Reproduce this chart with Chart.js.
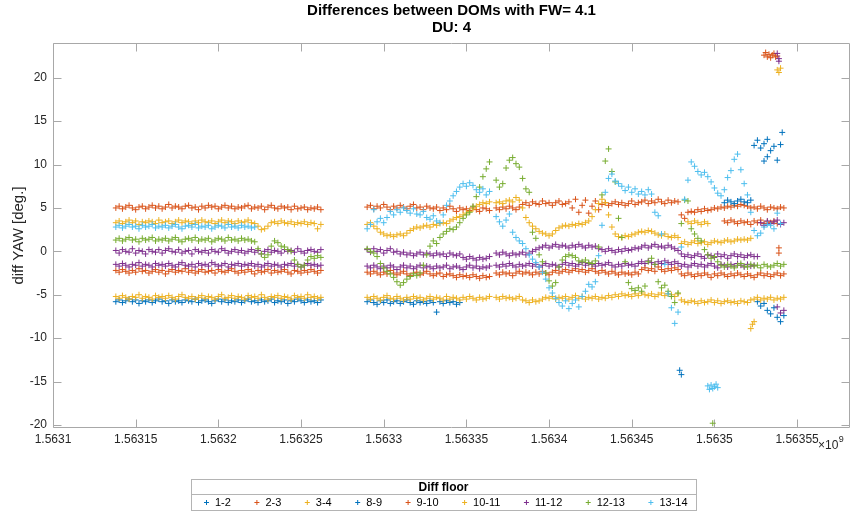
<!DOCTYPE html>
<html>
<head>
<meta charset="utf-8">
<script src="https://cdn.jsdelivr.net/npm/chart.js@4"></script>
<style>
  html, body { margin: 0; padding: 0; background: #fff; }
</style>
</head>
<body>
<canvas id="myChart" width="851" height="515"></canvas>
<script>
// sample times (x10^9 s), two runs with a gap between them
const times = [
  1.563138,1.56314,1.563142,1.563144,1.563146,1.563148,1.56315,1.563152,1.563154,1.563156,
  1.563158,1.56316,1.563162,1.563164,1.563166,1.563168,1.56317,1.563172,1.563174,1.563176,
  1.563178,1.56318,1.563182,1.563184,1.563186,1.563188,1.56319,1.563192,1.563194,1.563196,
  1.563198,1.5632,1.563202,1.563204,1.563206,1.563208,1.56321,1.563212,1.563214,1.563216,
  1.563218,1.56322,1.563222,1.563224,1.563226,1.563228,1.56323,1.563232,1.563234,1.563236,
  1.563238,1.56324,1.563242,1.563244,1.563246,1.563248,1.56325,1.563252,1.563254,1.563256,
  1.563258,1.56326,1.563262,
  1.56329,1.563292,1.563294,1.563296,1.563298,1.5633,1.563302,1.563304,1.563306,1.563308,
  1.56331,1.563312,1.563314,1.563316,1.563318,1.56332,1.563322,1.563324,1.563326,1.563328,
  1.56333,1.563332,1.563334,1.563336,1.563338,1.56334,1.563342,1.563344,1.563346,1.563348,
  1.56335,1.563352,1.563354,1.563356,1.563358,1.56336,1.563362,1.563364,1.563366,1.563368,
  1.56337,1.563372,1.563374,1.563376,1.563378,1.56338,1.563382,1.563384,1.563386,1.563388,
  1.56339,1.563392,1.563394,1.563396,1.563398,1.5634,1.563402,1.563404,1.563406,1.563408,
  1.56341,1.563412,1.563414,1.563416,1.563418,1.56342,1.563422,1.563424,1.563426,1.563428,
  1.56343,1.563432,1.563434,1.563436,1.563438,1.56344,1.563442,1.563444,1.563446,1.563448,
  1.56345,1.563452,1.563454,1.563456,1.563458,1.56346,1.563462,1.563464,1.563466,1.563468,
  1.56347,1.563472,1.563474,1.563476,1.563478,1.56348,1.563482,1.563484,1.563486,1.563488,
  1.56349,1.563492,1.563494,1.563496,1.563498,1.5635,1.563502,1.563504,1.563506,1.563508,
  1.56351,1.563512,1.563514,1.563516,1.563518,1.56352,1.563522,1.563524,1.563526,1.563528,
  1.56353,1.563532,1.563534,1.563536,1.563538,1.56354,1.563542
];

// diff YAW [deg.] per floor pair, one value per sample time
const y12 = [
  -5.8,-5.6,-5.9,-5.7,-5.5,-5.8,-5.6,-6.0,-5.7,-5.8,
  -5.6,-5.9,-5.7,-5.5,-5.8,-5.7,-6.0,-5.6,-5.8,-5.7,
  -5.9,-5.6,-5.7,-5.8,-5.5,-5.9,-5.7,-5.6,-5.8,-6.0,
  -5.7,-5.5,-5.8,-5.6,-5.9,-5.7,-5.8,-5.6,-5.9,-5.7,
  -5.5,-5.8,-5.7,-5.9,-5.6,-5.8,-5.7,-5.5,-5.9,-5.7,
  -5.8,-5.6,-6.0,-5.7,-5.8,-5.5,-5.7,-5.9,-5.6,-5.8,
  -5.7,-5.9,-5.6,
  -5.8,-5.6,-5.9,-6.1,-5.7,-5.9,-5.6,-6.0,-5.8,-5.7,
  -6.0,-5.8,-5.6,-5.9,-6.1,-5.7,-5.9,-5.8,-6.0,-5.7,
  -5.9,-7.0,-5.8,-6.0,-5.7,-5.9,-5.8,-6.1,-5.9,
  null,null,null,null,null,null,null,null,null,null,
  null,null,null,null,null,null,null,null,null,null,
  null,null,null,null,null,null,null,null,null,null,
  null,null,null,null,null,null,null,null,null,null,
  null,null,null,null,null,null,null,null,null,null,
  null,null,null,null,null,null,null,null,null,null,
  null,null,null,null,null,null,null,null,null,null,
  null,null,null,null,null,null,null,null,null,null,
  null,null,null,null,null,null,null,null,null,
  -5.8,-6.3,-6.0,-6.8,-7.2,-6.5,-7.6,-8.1,-7.4
];
const y23 = [
  5.0,5.2,4.9,5.1,5.3,5.0,4.8,5.1,5.2,4.9,
  5.1,5.3,5.0,5.2,4.9,5.1,5.4,5.0,5.2,5.1,
  4.9,5.2,5.3,5.0,5.1,4.8,5.2,5.0,5.3,5.1,
  5.2,4.9,5.1,5.3,5.0,5.2,4.9,5.1,5.0,5.2,
  5.3,4.9,5.1,5.0,5.2,4.8,5.1,5.3,5.0,4.9,
  5.2,5.0,5.1,4.8,5.2,4.9,5.0,5.1,4.8,5.0,
  4.9,5.1,4.8,
  5.1,5.3,4.9,5.2,5.0,5.4,5.1,4.8,5.2,5.0,
  5.3,5.1,4.9,5.2,5.4,5.0,5.1,4.8,5.2,5.0,
  4.9,5.1,4.7,5.0,4.8,5.2,4.9,4.6,5.0,4.8,
  4.9,4.7,5.1,4.8,4.6,5.0,4.9,4.7,
  null,
  5.0,4.8,5.1,4.9,5.2,5.0,4.8,5.1,
  5.4,5.6,5.3,5.7,5.5,5.4,5.8,5.5,5.6,5.3,
  5.6,5.8,5.4,5.5,5.7,
  5.0,6.0,4.5,5.3,5.9,4.4,5.2,5.8,4.8,
  5.4,5.6,5.3,5.5,5.7,5.4,5.6,5.3,5.5,5.8,5.4,5.6,
  5.7,5.9,5.5,5.8,5.6,6.0,5.7,5.5,5.9,5.6,5.8,5.7,
  4.2,3.8,4.5,
  4.6,4.5,4.8,4.6,4.9,4.7,4.8,5.0,4.9,5.1,5.0,5.2,5.1,5.3,5.2,5.4,5.3,5.2,
  5.0,5.1,4.9,5.2,5.0,4.8,5.1,5.0,4.9,5.1,5.0
];
const y34 = [
  3.3,3.5,3.2,3.4,3.6,3.3,3.5,3.1,3.4,3.3,
  3.5,3.4,3.2,3.6,3.3,3.4,3.5,3.2,3.4,3.6,
  3.3,3.5,3.4,3.2,3.5,3.3,3.6,3.4,3.3,3.5,
  3.2,3.4,3.6,3.3,3.5,3.4,3.2,3.5,3.3,3.4,
  3.6,3.3,3.2,2.9,2.5,2.6,2.9,3.3,3.4,3.2,
  3.5,3.3,3.2,3.4,3.1,3.3,3.2,3.4,3.1,3.3,
  3.2,2.6,3.1,
  3.1,3.3,2.9,2.6,
  2.2,2.0,1.8,1.9,1.7,1.9,2.0,1.8,2.1,
  2.4,2.6,2.8,2.7,2.9,3.0,2.8,3.1,3.0,3.2,3.3,3.2,3.5,
  3.7,3.9,4.0,4.2,4.4,4.6,
  4.9,5.2,5.4,5.6,5.5,5.7,
  null,
  5.6,5.7,5.5,5.8,5.9,5.7,6.2,5.9,
  5.0,3.9,3.3,2.9,2.6,2.3,2.1,2.0,1.8,2.0,
  2.4,2.7,2.9,3.0,2.9,3.1,3.0,3.2,3.1,3.3,3.5,
  4.0,4.8,5.5,6.0,5.6,4.2,2.8,2.0,
  1.7,1.6,1.8,1.7,1.9,2.0,2.2,
  2.3,2.2,2.4,2.3,2.1,
  1.9,1.8,2.0,1.7,1.6,1.8,1.6,
  0.9,1.1,0.8,1.0,1.2,0.9,1.0,1.1,0.8,1.0,1.2,1.1,1.0,1.2,1.3,1.1,1.2,1.4,1.3,
  1.4,1.3,1.5,
  null,null,null,null,null,null,null,null,null,null
];
const y910 = [
  -2.2,-2.4,-2.1,-2.3,-2.5,-2.2,-2.4,-2.0,-2.3,-2.2,
  -2.5,-2.3,-2.1,-2.4,-2.2,-2.6,-2.3,-2.1,-2.4,-2.2,
  -2.3,-2.0,-2.4,-2.2,-2.5,-2.3,-2.1,-2.4,-2.3,-2.2,
  -2.5,-2.1,-2.3,-2.4,-2.2,-2.0,-2.3,-2.5,-2.2,-2.4,
  -2.1,-2.3,-2.6,-2.2,-2.4,-2.3,-2.1,-2.5,-2.2,-2.4,
  -2.3,-2.1,-2.4,-2.6,-2.2,-2.3,-2.5,-2.2,-2.4,-2.1,
  -2.3,-2.5,-2.2,
  -2.4,-2.6,-2.3,-2.5,-2.7,-2.4,-2.6,-2.2,-2.5,-2.7,
  -2.5,-2.3,-2.6,-2.8,-2.5,-2.4,-2.7,-2.5,-2.3,-2.6,
  -2.8,-2.6,-2.5,-2.9,-2.7,-2.6,-2.8,-3.0,-2.7,-2.9,
  -2.8,-3.0,-2.7,-2.9,-3.1,-2.8,-3.0,-2.9,
  null,
  -2.5,-2.7,-2.4,-2.6,-2.5,-2.8,-2.5,-2.3,-2.6,-2.4,
  -2.5,-2.7,-2.4,-2.6,-2.3,-2.5,-2.7,-2.4,-2.2,-2.5,
  -2.3,-2.1,-2.4,-2.2,-2.0,-2.3,-2.1,-2.4,-2.2,-2.0,
  -2.3,-2.5,-2.2,-2.4,-2.6,-2.3,-2.5,-2.7,-2.4,-2.6,
  -2.5,-2.7,-2.4,-2.6,-2.1,-1.9,-2.2,-2.0,-2.3,-1.8,
  -2.1,-2.3,-2.0,-2.2,-1.9,-2.1,-2.6,-2.8,-2.5,-2.7,
  -2.9,-2.6,-2.8,-2.5,-2.7,-3.0,-2.6,-2.8,-2.5,-2.7,
  -2.9,-2.6,-2.8,-2.5,-2.7,-2.9,-2.6,-2.8,-3.0,-2.7,
  -2.5,-2.8,-2.6,-2.9,-2.7,-2.5,-2.8,-2.6
];
const y1011 = [
  -5.2,-5.4,-5.1,-5.3,-5.5,-5.2,-5.3,-5.0,-5.4,-5.2,
  -5.3,-5.5,-5.1,-5.3,-5.2,-5.4,-5.1,-5.3,-5.5,-5.2,
  -5.0,-5.3,-5.4,-5.2,-5.5,-5.3,-5.1,-5.4,-5.2,-5.3,
  -5.5,-5.2,-5.0,-5.4,-5.3,-5.1,-5.4,-5.2,-5.3,-5.5,
  -5.1,-5.3,-5.2,-5.4,-5.0,-5.3,-5.5,-5.2,-5.3,-5.1,
  -5.4,-5.2,-5.3,-5.5,-5.1,-5.3,-5.2,-5.4,-5.0,-5.3,
  -5.2,-5.4,-5.3,
  -5.3,-5.5,-5.2,-5.4,-5.6,-5.3,-5.1,-5.4,-5.5,-5.2,
  -5.4,-5.6,-5.3,-5.5,-5.2,-5.4,-5.3,-5.6,-5.4,-5.2,
  -5.5,-5.3,-5.4,-5.6,-5.2,-5.5,-5.3,-5.4,-5.6,-5.3,
  -5.5,-5.2,-5.4,-5.6,-5.3,-5.5,-5.4,-5.2,
  null,
  -5.3,-5.5,-5.2,-5.4,-5.3,-5.5,-5.4,-5.2,-5.6,-5.7,
  -5.9,-5.6,-5.8,-5.7,-5.5,-5.3,-5.4,-5.2,-5.5,-5.3,
  -5.4,-5.2,-5.5,-5.3,-5.1,-5.4,-5.2,-5.5,-5.3,-5.4,
  -5.2,-5.5,-5.3,-5.4,-5.1,-5.3,-5.0,-5.2,-4.9,-5.1,
  -5.0,-5.2,-4.9,-5.1,-4.8,-5.0,-5.1,-4.9,-5.2,-5.0,
  -4.8,-5.1,-4.9,-5.0,-5.2,-4.9,-5.6,-5.8,-5.9,-5.7,
  -5.8,-6.0,-5.7,-5.9,-5.8,-5.6,-5.9,-5.7,-6.0,-5.8,
  -5.7,-5.9,-5.8,-6.0,-5.7,-5.8,-5.9,-5.6,-5.5,-5.3,
  -5.6,-5.4,-5.5,-5.3,-5.6,-5.4,-5.5,-5.3
];
// 11-12 shows two bands; upper and lower kept apart
const y1112 = [
  0.1,-0.2,0.2,0.0,-0.1,0.3,-0.2,0.1,0.0,-0.3,
  0.2,0.0,-0.1,0.2,-0.2,0.1,0.3,0.0,-0.1,0.2,
  -0.2,0.0,0.1,-0.3,0.2,0.0,-0.1,0.1,-0.2,0.2,
  0.0,-0.1,0.3,0.1,-0.2,0.0,0.2,-0.1,0.1,-0.2,
  0.0,0.2,-0.1,0.1,-0.3,0.0,0.2,-0.1,0.1,0.0,
  -0.2,0.2,0.0,0.1,-0.1,0.3,0.0,-0.2,0.1,0.2,
  0.0,-0.1,0.2,
  0.2,-0.1,0.3,0.0,0.2,-0.2,0.1,0.3,-0.1,0.0,
  -0.3,-0.1,-0.4,-0.2,-0.5,-0.3,-0.1,-0.4,-0.2,-0.3,
  -0.5,-0.2,-0.4,-0.3,-0.6,-0.2,-0.4,-0.5,-0.3,
  -0.7,-0.9,-0.6,-0.8,-1.0,-0.7,-0.9,-0.8,-0.6,
  null,
  -0.2,-0.4,-0.1,-0.3,-0.5,-0.2,-0.4,-0.3,-0.1,-0.4,-0.2,0.0,0.2,0.4,
  0.5,0.7,0.4,0.6,0.8,0.5,0.7,0.6,0.4,0.7,0.5,0.8,0.6,0.4,0.7,0.5,0.6,0.3,
  0.2,0.0,0.3,0.1,-0.1,0.2,0.0,0.3,0.1,0.2,0.4,0.3,
  0.5,0.7,0.4,0.6,0.8,0.5,0.6,0.4,0.7,0.5,0.3,0.1,
  -0.3,-0.6,-0.4,-0.7,-0.5,-0.3,-0.6,-0.8,-0.4,-0.5,-0.7,-0.3,
  -0.6,-0.4,-0.8,-0.5,-0.3,-0.6,-0.4,-0.7,-0.5,-0.4,-0.6,
  -0.6,3.3,3.0,3.5,3.2,3.4,3.6,3.1,3.3
];
const y1112low = [
  -1.5,-1.7,-1.4,-1.6,-1.8,-1.5,-1.6,-1.3,-1.7,-1.5,
  -1.6,-1.8,-1.4,-1.6,-1.5,-1.7,-1.4,-1.6,-1.8,-1.5,
  -1.3,-1.6,-1.7,-1.5,-1.8,-1.4,-1.6,-1.5,-1.7,-1.3,
  -1.5,-1.7,-1.6,-1.4,-1.8,-1.5,-1.6,-1.4,-1.7,-1.5,
  -1.6,-1.4,-1.7,-1.5,-1.8,-1.6,-1.4,-1.7,-1.5,-1.6,
  -1.8,-1.5,-1.6,-1.4,-1.7,-1.5,-1.8,-1.6,-1.4,-1.6,
  -1.5,-1.7,-1.6,
  -1.7,-1.9,-1.6,-1.8,-2.0,-1.7,-1.9,-1.6,-1.8,-2.1,
  -1.8,-1.6,-1.9,-1.7,-2.0,-1.8,-1.6,-1.9,-1.7,-1.8,
  -2.0,-1.7,-1.9,-1.8,-1.6,-2.0,-1.8,-1.7,-1.9,-2.1,
  -1.8,-1.6,-1.9,-1.7,-2.0,-1.8,-1.9,-1.7,
  null,
  -1.6,-1.8,-1.5,-1.7,-1.4,-1.6,-1.8,-1.5,-1.7,-1.6,
  -1.4,-1.7,-1.5,-1.8,-1.6,-1.4,-1.7,-1.5,-1.6,-1.8,
  -1.5,-1.3,-1.6,-1.4,-1.7,-1.5,-1.3,-1.6,-1.4,-1.5,
  -1.7,-1.4,-1.6,-1.5,-1.3,-1.6,-1.8,-1.5,-1.7,-1.4,
  -1.6,-1.5,-1.7,-1.4,-1.2,-1.4,-1.1,-1.3,-1.5,-1.2,
  -1.4,-1.1,-1.3,-1.5,-1.2,-1.4,-1.7,-1.5,-1.8,-1.6,
  -1.4,-1.7,-1.5,-1.8,-1.6,-1.4,-1.7,-1.9,-1.5,-1.6,
  -1.8,-1.5,-1.7,-1.4,-1.6,-1.8,-1.5,-1.7,-1.6,null,
  null,null,null,null,null,-6.4,-7.1,-6.8
];
const y1213 = [
  1.3,1.5,1.2,1.4,1.6,1.3,1.4,1.1,1.5,1.3,
  1.4,1.6,1.2,1.4,1.3,1.5,1.2,1.4,1.6,1.3,
  1.1,1.4,1.5,1.3,1.6,1.2,1.4,1.3,1.5,1.1,
  1.3,1.5,1.4,1.2,1.6,1.3,1.4,1.2,1.5,1.3,
  1.4,1.2,1.1,0.3,-0.3,-0.7,-0.4,0.6,1.2,1.0,
  0.6,0.5,0.2,0.0,-1.0,-1.5,-1.8,-1.6,-1.0,-0.6,
  -0.8,-0.5,-0.7,
  0.3,0.0,-0.2,-0.6,
  -1.4,-1.9,-2.3,-2.6,
  -3.0,-3.5,-3.9,-3.6,-3.2,-2.9,
  -2.6,-2.8,-2.5,-1.6,-0.4,
  0.6,1.2,0.9,1.6,
  2.0,2.3,2.6,2.5,2.8,3.3,
  3.8,4.2,4.5,5.2,
  6.3,7.4,8.6,9.5,10.3,
  null,
  8.2,7.4,7.8,9.6,10.5,10.8,10.1,9.7,
  8.4,7.2,6.8,
  2.2,1.5,
  -0.4,-1.2,-2.5,
  -3.4,-4.0,-3.6,
  -1.8,-1.0,-0.6,
  -0.4,-0.5,-0.7,-1.1,
  -1.2,-1.0,-1.3,-1.4,-1.1,0.5,
  6.5,10.4,11.8,
  9.2,8.0,
  3.8,1.6,
  -1.2,-3.6,
  -4.3,-4.5,-4.2,-4.6,-4.0,-1.2,
  -0.8,-1.5,
  -3.5,-4.2,-3.9,-4.6,-5.2,-5.9,-4.8,
  3.2,5.9,5.8,
  2.6,2.0,1.5,1.2,
  0.2,-0.4,-0.8,-0.6,-1.2,
  -1.6,-1.8,-1.5,-1.7,-1.9,-1.6,-1.4,-1.7,-1.8,-1.5,
  -1.7,-1.6,-1.9,-1.5,-1.7,-1.8,-1.6,-1.4,-1.7,-1.5
];
const y1314 = [
  2.8,3.0,2.7,2.9,3.1,2.8,2.9,2.6,3.0,2.8,
  2.9,3.1,2.7,2.9,2.8,3.0,2.7,2.9,3.1,2.8,
  2.6,2.9,3.0,2.8,3.1,2.7,2.9,2.8,3.0,2.6,
  2.8,3.0,2.9,2.7,3.1,2.8,2.9,2.7,3.0,2.8,
  2.9,2.7,2.8,null,null,null,null,null,null,null,
  null,null,null,null,null,null,null,null,null,null,
  null,null,null,
  2.6,3.1,4.8,3.4,
  3.8,3.3,3.9,4.6,4.2,
  4.8,4.5,5.0,4.7,4.4,4.9,4.3,
  4.2,4.6,3.9,3.7,4.1,3.5,
  3.3,4.2,5.3,5.8,
  6.4,6.9,7.4,
  7.8,7.5,7.9,7.6,7.1,
  6.8,7.2,6.5,6.9,
  null,
  4.0,3.4,2.9,3.6,4.3,
  2.2,1.6,1.2,
  0.9,0.3,-0.4,
  -0.9,-1.3,
  -1.8,-2.4,-3.2,
  -4.2,-4.8,-5.4,
  -5.9,-6.3,-5.7,-6.6,-6.0,-5.6,-6.4,
  -5.2,-4.6,-3.8,-4.1,-3.5,
  -0.5,3.0,6.8,8.4,8.9,8.1,7.8,
  7.5,7.0,7.4,6.8,7.2,6.6,
  6.9,6.5,7.1,6.6,
  4.5,4.1,
  2.0,-1.5,
  -4.9,-6.5,-8.3,-7.0,
  0.5,6.0,8.2,
  10.3,9.8,
  9.2,8.8,9.1,8.6,
  8.0,7.3,
  6.7,6.4,7.1,
  8.5,9.3,
  10.6,11.2,
  9.4,7.8,6.5,
  4.5,2.4,1.8,2.1,
  2.8,3.1,3.0,2.6,
  4.4,3.2,null
];

// scattered readings off the main bands: [time, diff YAW]
const pts89 = [
  [1.563479,-13.7],[1.56348,-14.2],
  [1.563506,5.6],[1.563508,5.9],[1.56351,5.7],[1.563512,5.5],[1.563514,5.8],
  [1.563516,6.0],[1.563518,5.7],[1.56352,5.6],[1.563522,5.9],
  [1.563524,12.2],[1.563526,12.8],[1.563528,11.9],[1.56353,12.4],[1.563532,12.9],
  [1.563534,11.6],[1.563536,12.1],[1.563538,10.5],[1.56354,12.3],[1.563541,13.7],
  [1.56353,10.4],[1.563532,10.9]
];
const extra23 = [
  [1.56353,22.6],[1.563531,22.9],[1.563532,22.4],[1.563533,22.7],[1.563534,22.3],
  [1.563535,22.6],[1.563536,22.8],[1.563537,22.4],[1.563538,22.5]
];
const extra34 = [
  [1.563484,3.4],[1.563486,3.2],[1.563488,3.5],[1.56349,3.3],[1.563492,3.1],
  [1.563494,3.4],[1.563496,3.2],
  [1.563522,-8.9],[1.563523,-8.4],[1.563524,-8.1],
  [1.563538,20.9],[1.563539,20.6],[1.56354,21.1]
];
const extra910 = [
  [1.563506,3.5],[1.563508,3.3],[1.56351,3.6],[1.563512,3.4],[1.563514,3.2],
  [1.563516,3.5],[1.563518,3.3],[1.56352,3.4],[1.563522,3.1],[1.563524,3.5],
  [1.563526,3.3],[1.563528,3.6],[1.56353,3.2],[1.563532,3.4],[1.563534,3.3],
  [1.563536,3.5],[1.563538,3.2],[1.563539,0.4],[1.563539,-0.2]
];
const extra1112 = [[1.563538,22.8],[1.563539,22.2],[1.563539,21.9]];
const extra1213 = [[1.563499,-19.8]];
const extra1314 = [
  [1.563496,-15.5],[1.563497,-15.9],[1.563498,-15.4],[1.563499,-15.8],
  [1.5635,-15.6],[1.563501,-15.3],[1.563502,-15.7]
];

const floors = ['1-2','2-3','3-4','8-9','9-10','10-11','11-12','12-13','13-14'];
const floorColors = ['#0072BD','#D95319','#EDB120','#0072BD','#D95319','#EDB120','#7E2F8E','#77AC30','#4DBEEE'];
const xTicks = [1.5631,1.56315,1.5632,1.56325,1.5633,1.56335,1.5634,1.56345,1.5635,1.56355];
const yTicks = [-20,-15,-10,-5,0,5,10,15,20];

function toPoints(ys, extra) {
  var pts = [];
  if (ys) {
    times.forEach(function (t, k) {
      if (ys[k] !== null) pts.push({ x: t, y: ys[k] });
    });
  }
  (extra || []).forEach(function (p) { pts.push({ x: p[0], y: p[1] }); });
  return pts;
}

const seriesPoints = [
  toPoints(y12),
  toPoints(y23, extra23),
  toPoints(y34, extra34),
  toPoints(null, pts89),
  toPoints(y910, extra910),
  toPoints(y1011),
  toPoints(y1112).concat(toPoints(y1112low, extra1112)),
  toPoints(y1213, extra1213),
  toPoints(y1314, extra1314)
];

const FONT = '"Liberation Sans", Arial, Helvetica, sans-serif';
Chart.defaults.font.family = FONT;
Chart.defaults.color = '#262626';

// matlab style box with inward ticks, title, legend box and exponent
const matlabFrame = {
  id: 'matlabFrame',
  beforeDatasetsDraw(chart) {
    const ctx = chart.ctx, a = chart.chartArea, sx = chart.scales.x, sy = chart.scales.y;
    const L = Math.round(a.left) + 0.5, R = Math.round(a.right) - 0.5;
    const T = Math.round(a.top) + 0.5, B = Math.round(a.bottom) - 0.5;
    ctx.save();
    ctx.strokeStyle = '#a8a8a8';
    ctx.lineWidth = 1;
    ctx.beginPath();
    ctx.moveTo(L, T); ctx.lineTo(R, T); ctx.lineTo(R, B); ctx.lineTo(L, B); ctx.closePath();
    xTicks.forEach(function (v) {
      var px = Math.round(sx.getPixelForValue(v)) + 0.5;
      ctx.moveTo(px, B); ctx.lineTo(px, B - 8);
      ctx.moveTo(px, T); ctx.lineTo(px, T + 8);
    });
    yTicks.forEach(function (v) {
      var py = Math.round(sy.getPixelForValue(v)) + 0.5;
      ctx.moveTo(L, py); ctx.lineTo(L + 8, py);
      ctx.moveTo(R, py); ctx.lineTo(R - 8, py);
    });
    ctx.stroke();
    ctx.restore();
  },
  afterDraw(chart) {
    const ctx = chart.ctx, a = chart.chartArea;
    const cx = (a.left + a.right) / 2;
    ctx.save();
    // title
    ctx.fillStyle = '#000';
    ctx.textAlign = 'center';
    ctx.textBaseline = 'middle';
    ctx.font = 'bold 15px ' + FONT;
    ctx.fillText('Differences between DOMs with FW= 4.1', cx, 11);
    ctx.fillText('DU: 4', cx, 28);

    // x10^9 exponent
    ctx.fillStyle = '#262626';
    ctx.textAlign = 'left';
    ctx.font = '12px ' + FONT;
    ctx.fillText('\u00d710', 818, 446);
    var w = ctx.measureText('\u00d710').width;
    ctx.font = '9px ' + FONT;
    ctx.fillText('9', 818 + w + 0.5, 440);

    // legend
    var boxL = 191, boxT = 479, boxB = 510;
    var titleY = 487.5, sepY = 494.5, itemY = 502.5;
    ctx.font = '11px ' + FONT;
    var x = boxL + 15.5, items = [];
    floors.forEach(function (name, i) {
      var tw = ctx.measureText(name).width;
      items.push({ mx: x, tx: x + 8.5, name: name, color: floorColors[i] });
      x = x + 8.5 + tw + 26;
    });
    var boxR = Math.round(x - 26 + 8);
    ctx.fillStyle = '#fff';
    ctx.fillRect(boxL, boxT, boxR - boxL, boxB - boxT);
    ctx.strokeStyle = '#b4b4b4';
    ctx.lineWidth = 1;
    ctx.strokeRect(boxL + 0.5, boxT + 0.5, boxR - boxL, boxB - boxT);
    ctx.beginPath();
    ctx.moveTo(boxL + 0.5, sepY); ctx.lineTo(boxR + 0.5, sepY);
    ctx.stroke();
    ctx.fillStyle = '#000';
    ctx.textAlign = 'center';
    ctx.font = 'bold 12px ' + FONT;
    ctx.fillText('Diff floor', (boxL + boxR) / 2, titleY);
    ctx.textAlign = 'left';
    ctx.font = '11px ' + FONT;
    items.forEach(function (it) {
      ctx.strokeStyle = it.color;
      ctx.beginPath();
      ctx.moveTo(it.mx - 2.5, itemY); ctx.lineTo(it.mx + 2.5, itemY);
      ctx.moveTo(it.mx, itemY - 2.5); ctx.lineTo(it.mx, itemY + 2.5);
      ctx.stroke();
      ctx.fillStyle = '#000';
      ctx.fillText(it.name, it.tx, itemY);
    });
    ctx.restore();
  }
};

const ctx = document.getElementById('myChart').getContext('2d');
const chart = new Chart(ctx, {
  type: 'scatter',
  data: {
    datasets: floors.map(function (name, i) {
      return {
        label: name,
        data: seriesPoints[i],
        pointStyle: 'cross',
        pointRadius: 3,
        pointBorderWidth: 1,
        borderColor: floorColors[i],
        backgroundColor: floorColors[i],
        order: floors.length - i
      };
    })
  },
  options: {
    responsive: false,
    animation: false,
    events: [],
    layout: { autoPadding: false, padding: { top: 43, right: 1, bottom: 0, left: 0 } },
    plugins: { legend: { display: false }, title: { display: false }, tooltip: { enabled: false } },
    scales: {
      x: {
        type: 'linear',
        min: 1.5631,
        max: 1.563582,
        grid: { display: false, drawTicks: false },
        border: { display: false },
        afterBuildTicks: function (scale) { scale.ticks = xTicks.map(function (v) { return { value: v }; }); },
        afterFit: function (scale) { scale.height = 87; scale.paddingLeft = 0; scale.paddingRight = 0; },
        ticks: {
          padding: 4,
          maxRotation: 0,
          autoSkip: false,
          font: { size: 12 },
          color: '#262626',
          callback: function (v) { return String(Number(v.toFixed(5))); }
        }
      },
      y: {
        min: -20.35,
        max: 24,
        grid: { display: false, drawTicks: false },
        border: { display: false },
        afterBuildTicks: function (scale) { scale.ticks = yTicks.map(function (v) { return { value: v }; }); },
        afterFit: function (scale) { scale.width = 53; scale.paddingTop = 0; scale.paddingBottom = 0; },
        title: { display: true, text: 'diff YAW [deg.]', font: { size: 15 }, color: '#262626', padding: { top: 10, bottom: 0 } },
        ticks: {
          padding: 6,
          autoSkip: false,
          font: { size: 12 },
          color: '#262626'
        }
      }
    }
  },
  plugins: [matlabFrame]
});
</script>
</body>
</html>
